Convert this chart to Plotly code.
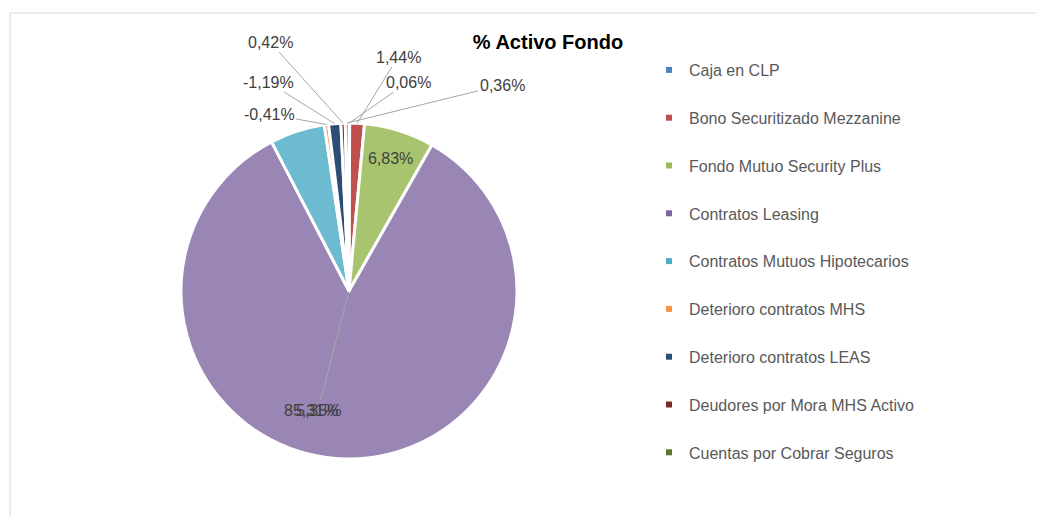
import math
import plotly.graph_objects as go

categories = ["Caja en CLP", "Bono Securitizado Mezzanine", "Fondo Mutuo Security Plus",
              "Contratos Leasing", "Contratos Mutuos Hipotecarios", "Deterioro contratos MHS",
              "Deterioro contratos LEAS", "Deudores por Mora MHS Activo", "Cuentas por Cobrar Seguros"]
pct_values = [0.06, 1.44, 6.83, 85.31, 5.35, -0.41, -1.19, 0.42, 0.36]
colors = ["#4F81BD", "#C0504D", "#A9C46E", "#9A86B5", "#6CBBD0", "#F79646", "#2C4D75", "#772C2A", "#5F7530"]
legend_colors = ["#4F81BD", "#C0504D", "#9BBB59", "#8064A2", "#4BACC6", "#F79646", "#2C4D75", "#772C2A", "#5F7530"]
text_pos = ["none", "none", "inside", "none", "none", "none", "none", "none", "none"]

# label placement (window pixels) for labels drawn with leader lines
label_xy = {0: (408, 82), 1: (398, 57), 7: (270, 42), 6: (268, 82), 5: (269, 114), 8: (502, 85)}

W, H = 1044, 516
O = 8  # page body margin
cx, cy, r = 349, 291, 168
FONT = "Liberation Sans, Arial"


def px(x):
    return (x - O) / W


def py(y):
    return 1 - (y - O) / H


def fmt(v):
    return f"{v:.2f}%".replace(".", ",")


fig = go.Figure()
fig.add_trace(go.Pie(
    labels=categories,
    values=[abs(v) for v in pct_values],
    customdata=pct_values,
    texttemplate="%{customdata:.2f}%",
    textposition=text_pos,
    insidetextorientation="horizontal",
    sort=False,
    direction="clockwise",
    rotation=0,
    marker=dict(colors=colors, line=dict(color="white", width=3)),
    textfont=dict(family=FONT, size=16, color="#404040"),
    showlegend=False,
    hoverinfo="label+text",
    domain=dict(x=[px(cx - r), px(cx + r)], y=[py(cy + r), py(cy - r)]),
))

for name, col in zip(categories, legend_colors):
    fig.add_trace(go.Scatter(x=[None], y=[None], mode="markers", name=name,
                             legendgroup=name,
                             marker=dict(symbol="square", size=6, color=col)))

# leader-line labels for the small slices
total = sum(abs(v) for v in pct_values)
cum = 0.0
mids = []
for v in pct_values:
    a = abs(v)
    mids.append((cum + a / 2) / total * 2 * math.pi)
    cum += a

for i, (tx, ty) in label_xy.items():
    ang = mids[i]
    ex = cx + r * math.sin(ang)
    ey = cy - r * math.cos(ang)
    fig.add_annotation(x=px(ex), y=py(ey), xref="paper", yref="paper",
                       ax=tx - ex, ay=ty - ey, showarrow=True, arrowhead=0, arrowwidth=1,
                       arrowcolor="#A6A6A6", text=fmt(pct_values[i]),
                       font=dict(family=FONT, size=16, color="#404040"))

# Contratos Leasing label and overlapping Mutuos Hipotecarios label with leader line
fig.add_annotation(x=px(311), y=py(410), xref="paper", yref="paper", showarrow=False,
                   xanchor="center", yanchor="middle",
                   text=fmt(pct_values[3]), font=dict(family=FONT, size=16, color="#404040"))
fig.add_annotation(x=px(cx), y=py(cy), xref="paper", yref="paper",
                   ax=318 - cx, ay=410 - cy, showarrow=True, arrowhead=0, arrowwidth=1,
                   arrowcolor="#A6A6A6", text=fmt(pct_values[4]),
                   font=dict(family=FONT, size=16, color="#404040"))

fig.add_shape(type="line", xref="paper", yref="paper", x0=px(10), x1=1, y0=py(13), y1=py(13),
              line=dict(color="#D9D9D9", width=1))
fig.add_shape(type="line", xref="paper", yref="paper", x0=px(10), x1=px(10), y0=0, y1=py(13),
              line=dict(color="#D9D9D9", width=1))

fig.update_layout(
    width=W, height=H,
    margin=dict(l=0, r=0, t=0, b=0),
    paper_bgcolor="white", plot_bgcolor="white",
    separators=",.",
    title=dict(text="<b>% Activo Fondo</b>", x=px(548), y=py(42), xanchor="center", yanchor="middle",
               font=dict(family=FONT, size=20, color="#000000")),
    xaxis=dict(visible=False), yaxis=dict(visible=False),
    legend=dict(x=px(649), y=py(53), xanchor="left", yanchor="top",
                traceorder="grouped", tracegroupgap=24,
                font=dict(family=FONT, size=16, color="#595959"),
                itemwidth=30, bgcolor="rgba(0,0,0,0)"),
)

fig.write_html("out.html")
